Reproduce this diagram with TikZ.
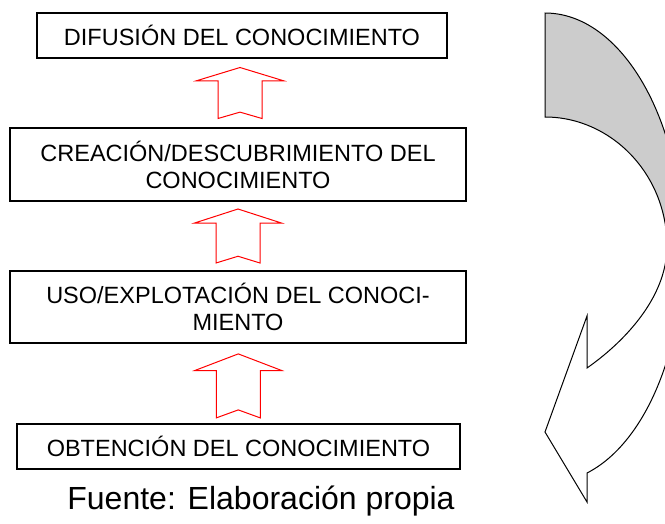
\documentclass[tikz,border=0pt]{standalone}
\usepackage{fontspec}
\setmainfont{Liberation Sans}
\usetikzlibrary{calc}

\tikzset{pics/hollowup/.style={code={
  \draw [hollow] (0,-#1) -- (43.5,-0.48*#1) -- (22,-0.48*#1) -- (22,#1) -- (0,0.75*#1)
    -- (-22,#1) -- (-22,-0.48*#1) -- (-43.5,-0.48*#1) -- cycle;}}}

\begin{document}
\begin{tikzpicture}[x=1pt, y=-1pt]
\useasboundingbox (0,0) rectangle (665,523);
\tikzstyle{block} = [draw, rectangle, align = center, line width = 1.2pt,
  inner sep = 0pt, font = \fontsize{23.5}{27}\selectfont];
\tikzstyle{hollow} = [draw = red, line width = 1pt, line join = miter];
\tikzstyle{curvedband} = [draw = black, line width = 1pt, line join = miter];
\node [block, minimum width = 410, minimum height = 45] at (242, 35.5) (diffusion) {DIFUSIÓN DEL CONOCIMIENTO};
\node [block, minimum width = 456, minimum height = 73] at (238, 164.5) (creation) {CREACIÓN/DESCUBRIMIENTO DEL \\ CONOCIMIENTO};
\node [block, minimum width = 456, minimum height = 72] at (238, 307) (usage) {USO/EXPLOTACIÓN DEL CONOCI- \\ MIENTO};
\node [block, minimum width = 443, minimum height = 45] at (238.5, 446.5) (gathering) {OBTENCIÓN DEL CONOCIMIENTO};
\pic at ($(diffusion.south)!0.5!(creation.north)$) {hollowup = 25.5};
\pic at ($(creation.south)!0.5!(usage.north)$) {hollowup = 27};
\pic at ($(usage.south)!0.53!(gathering.north)$) {hollowup = 32};
\node [anchor = base, font = \fontsize{32}{36}\selectfont] at (261, 509) (source) {Fuente: Elaboración propia};
% curved arrow on the right, cut by the page edge
\begin{scope}
\clip (0,0) rectangle (665,523);
\path [curvedband, fill = black!20] (545,13) .. controls (621,13) and (683,119) .. (683,250)
  -- (667,246) .. controls (667,174) and (611,117) .. (545,117) -- cycle;
\path [curvedband, fill = white] (667,246) .. controls (667,300) and (620,345) .. (587,368)
  -- (587,316) -- (545,432) -- (587,502) -- (587,473)
  .. controls (644,444) and (683,353) .. (683,250) -- cycle;
\end{scope}
\end{tikzpicture}
\end{document}
